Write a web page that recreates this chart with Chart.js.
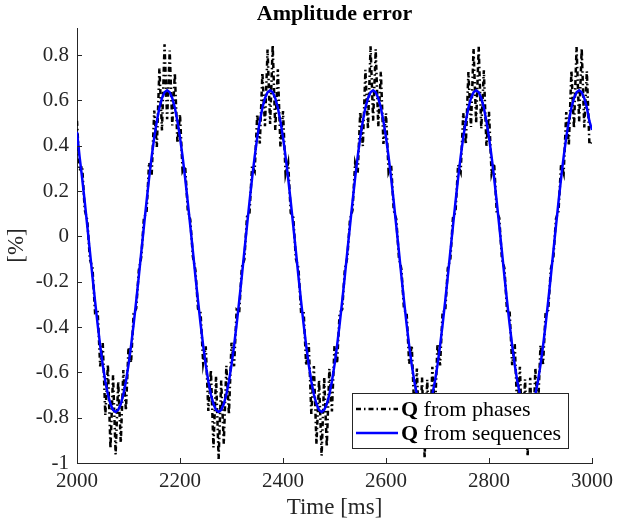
<!DOCTYPE html>
<html>
<head>
<meta charset="utf-8">
<script src="https://cdn.jsdelivr.net/npm/chart.js@4"></script>
<style>
  body { margin: 0; background: #fff; }
</style>
</head>
<body>
<canvas id="chart" width="619" height="525"></canvas>
<script>
// sample times, 5 ms apart
const time = [];
for (let t = 2000; t <= 3000; t += 5) time.push(t);

// Q from sequences (blue)
const fromSequences = [
  0.462, 0.352, 0.257, 0.154, 0.046, -0.065, -0.176, -0.284, -0.387, -0.482,
  -0.567, -0.639, -0.698, -0.740, -0.766, -0.775, -0.766, -0.740, -0.698, -0.639,
  -0.567, -0.482, -0.387, -0.284, -0.176, -0.065, 0.046, 0.154, 0.257, 0.352,
  0.437, 0.509, 0.568, 0.610, 0.636, 0.645, 0.636, 0.610, 0.568, 0.509,
  0.437, 0.352, 0.257, 0.154, 0.046, -0.065, -0.176, -0.284, -0.387, -0.482,
  -0.567, -0.639, -0.698, -0.740, -0.766, -0.775, -0.766, -0.740, -0.698, -0.639,
  -0.567, -0.482, -0.387, -0.284, -0.176, -0.065, 0.046, 0.154, 0.257, 0.352,
  0.437, 0.509, 0.568, 0.610, 0.636, 0.645, 0.636, 0.610, 0.568, 0.509,
  0.437, 0.352, 0.257, 0.154, 0.046, -0.065, -0.176, -0.284, -0.387, -0.482,
  -0.567, -0.639, -0.698, -0.740, -0.766, -0.775, -0.766, -0.740, -0.698, -0.639,
  -0.567, -0.482, -0.387, -0.284, -0.176, -0.065, 0.046, 0.154, 0.257, 0.352,
  0.437, 0.509, 0.568, 0.610, 0.636, 0.645, 0.636, 0.610, 0.568, 0.509,
  0.437, 0.352, 0.257, 0.154, 0.046, -0.065, -0.176, -0.284, -0.387, -0.482,
  -0.567, -0.639, -0.698, -0.740, -0.766, -0.775, -0.766, -0.740, -0.698, -0.639,
  -0.567, -0.482, -0.387, -0.284, -0.176, -0.065, 0.046, 0.154, 0.257, 0.352,
  0.437, 0.509, 0.568, 0.610, 0.636, 0.645, 0.636, 0.610, 0.568, 0.509,
  0.437, 0.352, 0.257, 0.154, 0.046, -0.065, -0.176, -0.284, -0.387, -0.482,
  -0.567, -0.639, -0.698, -0.740, -0.766, -0.775, -0.766, -0.740, -0.698, -0.639,
  -0.567, -0.482, -0.387, -0.284, -0.176, -0.065, 0.046, 0.154, 0.257, 0.352,
  0.437, 0.509, 0.568, 0.610, 0.636, 0.645, 0.636, 0.610, 0.568, 0.509,
  0.470
];

// Q from phases (black, noisy)
const fromPhases = [
  0.510, 0.290, 0.312, 0.118, 0.072, -0.101, -0.137, -0.334, -0.322, -0.574,
  -0.470, -0.789, -0.566, -0.936, -0.612, -0.962, -0.641, -0.910, -0.590, -0.768,
  -0.489, -0.557, -0.340, -0.318, -0.150, -0.088, 0.085, 0.104, 0.326, 0.271,
  0.556, 0.395, 0.741, 0.468, 0.848, 0.517, 0.820, 0.490, 0.722, 0.412,
  0.539, 0.288, 0.311, 0.119, 0.073, -0.089, -0.150, -0.320, -0.338, -0.559,
  -0.485, -0.770, -0.589, -0.931, -0.617, -0.982, -0.636, -0.915, -0.571, -0.786,
  -0.469, -0.573, -0.324, -0.335, -0.137, -0.101, 0.086, 0.105, 0.312, 0.288,
  0.540, 0.410, 0.722, 0.487, 0.825, 0.496, 0.844, 0.470, 0.738, 0.396,
  0.553, 0.274, 0.325, 0.104, 0.084, -0.099, -0.139, -0.331, -0.326, -0.570,
  -0.472, -0.783, -0.572, -0.917, -0.634, -0.968, -0.621, -0.929, -0.584, -0.772,
  -0.483, -0.561, -0.336, -0.322, -0.147, -0.091, 0.074, 0.116, 0.323, 0.276,
  0.551, 0.399, 0.735, 0.474, 0.839, 0.511, 0.826, 0.484, 0.727, 0.408,
  0.544, 0.284, 0.315, 0.115, 0.076, -0.092, -0.146, -0.324, -0.335, -0.562,
  -0.481, -0.774, -0.583, -0.927, -0.623, -0.979, -0.632, -0.919, -0.575, -0.781,
  -0.474, -0.569, -0.328, -0.330, -0.140, -0.098, 0.082, 0.108, 0.316, 0.284,
  0.545, 0.406, 0.726, 0.483, 0.828, 0.500, 0.837, 0.475, 0.733, 0.400,
  0.550, 0.277, 0.322, 0.108, 0.081, -0.097, -0.141, -0.329, -0.328, -0.568,
  -0.475, -0.780, -0.575, -0.920, -0.631, -0.971, -0.624, -0.926, -0.581, -0.775,
  -0.480, -0.563, -0.333, -0.325, -0.145, -0.093, 0.077, 0.113, 0.321, 0.279,
  0.549, 0.401, 0.732, 0.477, 0.836, 0.508, 0.829, 0.481, 0.729, 0.405,
  0.420
];

const xTicks = [2000, 2200, 2400, 2600, 2800, 3000];
const yTicks = [-1, -0.8, -0.6, -0.4, -0.2, 0, 0.2, 0.4, 0.6, 0.8];
const yTickLabels = ["-1", "-0.8", "-0.6", "-0.4", "-0.2", "0", "0.2", "0.4", "0.6", "0.8"];

const serif = '"Liberation Serif", "DejaVu Serif", serif';
const ink = "#262626";
const phaseDash = [5, 3, 1.5, 3];

const toPoints = vals => vals.map((v, i) => ({ x: time[i], y: v }));

// title, inward ticks and the legend (bold Q) are drawn by hand
const decor = {
  id: "decor",
  afterDatasetsDraw(c) {
    const ctx = c.ctx;
    const { left, right, bottom } = c.chartArea;
    const xs = c.scales.x, ys = c.scales.y;
    ctx.save();
    ctx.strokeStyle = ink;
    ctx.lineWidth = 1;
    ctx.beginPath();
    xTicks.forEach(v => {
      const px = Math.round(xs.getPixelForValue(v)) + 0.5;
      ctx.moveTo(px, bottom);
      ctx.lineTo(px, bottom - 5);
    });
    yTicks.forEach(v => {
      const py = Math.round(ys.getPixelForValue(v)) + 0.5;
      ctx.moveTo(left, py);
      ctx.lineTo(left + 5, py);
    });
    ctx.stroke();

    // title
    ctx.fillStyle = "#000";
    ctx.font = "bold 22px " + serif;
    ctx.textAlign = "center";
    ctx.textBaseline = "middle";
    ctx.fillText("Amplitude error", (left + right) / 2, 14);

    // legend
    const bx = 352, by = 393, bw = 216, bh = 55;
    ctx.fillStyle = "#fff";
    ctx.fillRect(bx, by, bw, bh);
    ctx.strokeStyle = ink;
    ctx.strokeRect(bx + 0.5, by + 0.5, bw, bh);

    const rows = [
      { label: " from phases", color: "#000", dash: phaseDash, width: 2.5, y: by + 16 },
      { label: " from sequences", color: "#0000ff", dash: [], width: 2.5, y: by + 40 }
    ];
    rows.forEach(r => {
      ctx.beginPath();
      ctx.setLineDash(r.dash);
      ctx.strokeStyle = r.color;
      ctx.lineWidth = r.width;
      ctx.moveTo(bx + 4, r.y);
      ctx.lineTo(bx + 46, r.y);
      ctx.stroke();
      ctx.setLineDash([]);
      ctx.textAlign = "left";
      ctx.fillStyle = "#000";
      ctx.font = "bold 22px " + serif;
      ctx.fillText("Q", bx + 49, r.y + 1);
      const qw = ctx.measureText("Q").width;
      ctx.font = "22px " + serif;
      ctx.fillText(r.label, bx + 49 + qw, r.y + 1);
    });
    ctx.restore();
  }
};

new Chart(document.getElementById("chart"), {
  type: "line",
  data: {
    datasets: [
      {
        label: "Q from phases",
        data: toPoints(fromPhases),
        borderColor: "#000",
        borderWidth: 2.5,
        borderDash: phaseDash,
        pointRadius: 0,
        tension: 0,
        fill: false,
        order: 1
      },
      {
        label: "Q from sequences",
        data: toPoints(fromSequences),
        borderColor: "#0000ff",
        borderWidth: 2.5,
        pointRadius: 0,
        tension: 0,
        fill: false,
        order: 0
      }
    ]
  },
  options: {
    responsive: false,
    animation: false,
    layout: { padding: { top: 28, right: 22, left: 0, bottom: 0 } },
    plugins: {
      legend: { display: false },
      tooltip: { enabled: false }
    },
    scales: {
      x: {
        type: "linear",
        min: 2000,
        max: 3000,
        afterBuildTicks: s => { s.ticks = xTicks.map(v => ({ value: v })); },
        afterFit: s => { s.height = 62; },
        grid: { drawOnChartArea: false, drawTicks: false },
        border: { display: true, color: ink, width: 1 },
        ticks: {
          color: ink,
          padding: 6,
          maxRotation: 0,
          font: { family: serif, size: 21 },
          callback: v => String(v)
        },
        title: {
          display: true,
          text: "Time [ms]",
          color: ink,
          font: { family: serif, size: 23 },
          padding: { top: 0, bottom: 3 }
        }
      },
      y: {
        min: -1,
        max: 0.92,
        afterBuildTicks: s => { s.ticks = yTicks.map(v => ({ value: v })); },
        afterFit: s => { s.width = 77; },
        grid: { drawOnChartArea: false, drawTicks: false },
        border: { display: true, color: ink, width: 1 },
        ticks: {
          color: ink,
          padding: 8,
          font: { family: serif, size: 21 },
          callback: (v, i) => yTickLabels[i]
        },
        title: {
          display: true,
          text: "[%]",
          color: ink,
          font: { family: serif, size: 23 },
          padding: { top: 3, bottom: 0 }
        }
      }
    }
  },
  plugins: [decor]
});
</script>
</body>
</html>
